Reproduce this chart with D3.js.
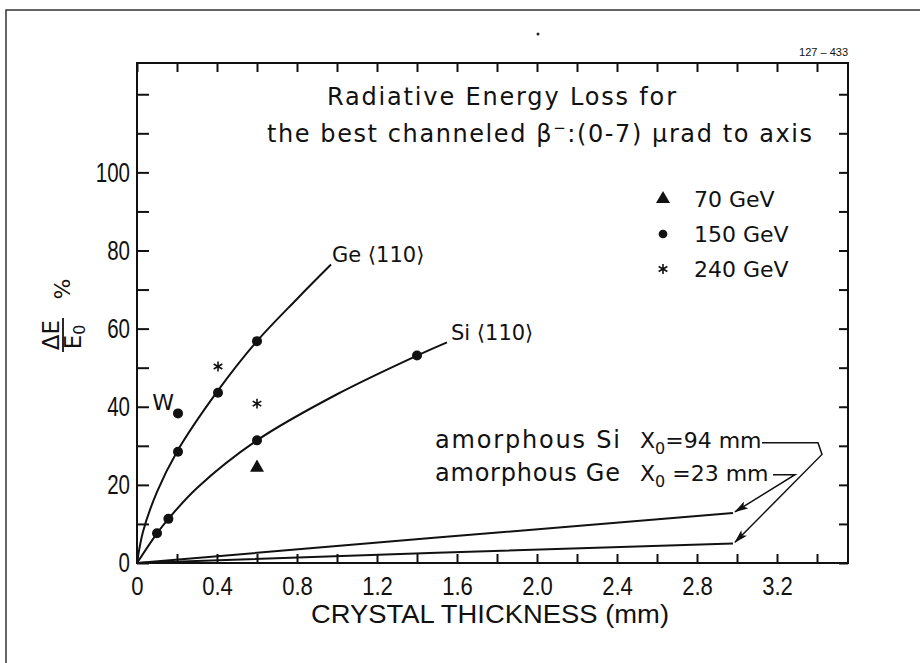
<!DOCTYPE html>
<html>
<head>
<meta charset="utf-8">
<title>Radiative Energy Loss</title>
<script src="https://d3js.org/d3.v7.min.js"></script>
<style>
  body { margin: 0; background: #fff; }
  svg { display: block; }
  text { fill: #111; }
  .lab { font-family: 'DejaVu Sans', 'Open Sans', sans-serif; }
  .num { font-family: 'Liberation Sans', Arial, sans-serif; }
  .tick line { stroke: #111; stroke-width: 2; }
</style>
</head>
<body>
<script>
// values: crystal thickness (mm) vs energy loss (%)
var geCurve = [[0,0],[0.03,8],[0.1,18.2],[0.2,28.5],[0.4,43.8],[0.6,56.8],[0.8,67.6],[0.97,76.4]];
var siCurve = [[0,0],[0.1,7.6],[0.157,11.3],[0.3,19.2],[0.6,31.4],[1.0,43.2],[1.4,53.1],[1.55,56.5]];
var amGe = [[0,0],[1.5,6.5],[2.98,12.8]];
var amSi = [[0,0],[1.5,2.6],[2.98,5.0]];

var pts150 = [[0.1,7.6],[0.157,11.3],[0.6,31.4],[1.4,53.1],[0.205,28.5],[0.405,43.6],[0.6,56.8],[0.205,38.3]];
var pts240 = [[0.405,50.3],[0.6,40.8]];
var pts70 = [[0.6,24.4]];

var xLabels = [0,0.4,0.8,1.2,1.6,2.0,2.4,2.8,3.2];
var yLabels = [0,20,40,60,80,100];
var legendNames = ["70 GeV", "150 GeV", "240 GeV"];

var W = 920, H = 663;
var svg = d3.select("body").append("svg").attr("width", W).attr("height", H);

// scanned page border (top and left only)
svg.append("path").attr("d", "M6,663V10H920").attr("fill", "none").attr("stroke", "#333").attr("stroke-width", 1.5);
svg.append("circle").attr("cx", 538).attr("cy", 34).attr("r", 1.5).attr("fill", "#222");

var x = d3.scaleLinear().domain([0, 3.555]).range([137, 848]);
var y = d3.scaleLinear().domain([0, 128]).range([563, 63]);

var minorX = d3.range(0, 3.5, 0.2);
var minorY = d3.range(0, 121, 10);

function fmtX(d) {
  var r = Math.round(d * 10);
  if (xLabels.indexOf(r / 10) < 0) return "";
  return r === 0 ? "0" : d3.format(".1f")(d);
}

// squeeze a text horizontally (the original lettering is narrow)
function narrow(sel, k) {
  sel.each(function(){
    var len = this.getComputedTextLength();
    if (len > 0) d3.select(this).attr("textLength", len * k).attr("lengthAdjust", "spacingAndGlyphs");
  });
}

var gx = svg.append("g").attr("transform", "translate(0," + y(0) + ")")
  .call(d3.axisBottom(x).tickValues(minorX).tickSizeInner(-9).tickSizeOuter(0).tickPadding(14).tickFormat(fmtX))
  .call(function(g){ g.select(".domain").remove(); });
gx.selectAll("text").attr("class", "num").attr("font-family", null).attr("font-size", null)
  .style("font-size", "26px").attr("fill", "#111").call(narrow, 0.85);

svg.append("g").attr("transform", "translate(0," + y(128) + ")")
  .call(d3.axisTop(x).tickValues(minorX).tickSizeInner(-9).tickSizeOuter(0).tickFormat(""))
  .call(function(g){ g.select(".domain").remove(); });

var gy = svg.append("g").attr("transform", "translate(" + x(0) + ",0)")
  .call(d3.axisLeft(y).tickValues(minorY).tickSizeInner(-12).tickSizeOuter(0).tickPadding(7)
    .tickFormat(function(d){ return yLabels.indexOf(d) >= 0 ? d : ""; }))
  .call(function(g){ g.select(".domain").remove(); });
gy.selectAll("text").attr("class", "num").attr("font-family", null).attr("font-size", null)
  .style("font-size", "27px").attr("fill", "#111").call(narrow, 0.76);

svg.append("g").attr("transform", "translate(" + x(3.555) + ",0)")
  .call(d3.axisRight(y).tickValues(minorY).tickSizeInner(-9).tickSizeOuter(0).tickFormat(""))
  .call(function(g){ g.select(".domain").remove(); });

// frame
svg.append("rect").attr("x", x(0)).attr("y", y(128))
  .attr("width", x(3.555) - x(0)).attr("height", y(0) - y(128))
  .attr("fill", "none").attr("stroke", "#111").attr("stroke-width", 2);

svg.append("text").attr("class", "num").attr("x", 848).attr("y", 56)
  .attr("text-anchor", "end").style("font-size", "11px").text("127 – 433");

// curves
var line = d3.line().x(function(d){ return x(d[0]); }).y(function(d){ return y(d[1]); });
var smooth = d3.line().x(function(d){ return x(d[0]); }).y(function(d){ return y(d[1]); })
  .curve(d3.curveCatmullRom.alpha(0.5));

[geCurve, siCurve].forEach(function(c){
  svg.append("path").attr("d", smooth(c)).attr("fill", "none").attr("stroke", "#111").attr("stroke-width", 2);
});
[amGe, amSi].forEach(function(c){
  svg.append("path").attr("d", line(c)).attr("fill", "none").attr("stroke", "#111").attr("stroke-width", 2);
});

// markers
svg.append("g").selectAll("circle").data(pts150).enter().append("circle")
  .attr("cx", function(d){ return x(d[0]); }).attr("cy", function(d){ return y(d[1]); })
  .attr("r", 5).attr("fill", "#111");

var tri = d3.symbol(d3.symbolTriangle, 85);
var star = d3.symbol(d3.symbolAsterisk, 70);

svg.append("g").selectAll("path").data(pts70).enter().append("path")
  .attr("d", tri).attr("fill", "#111")
  .attr("transform", function(d){ return "translate(" + x(d[0]) + "," + y(d[1]) + ")"; });

svg.append("g").selectAll("path").data(pts240).enter().append("path")
  .attr("d", star).attr("fill", "none").attr("stroke", "#111").attr("stroke-width", 1.6)
  .attr("transform", function(d){ return "translate(" + x(d[0]) + "," + y(d[1]) + ")"; });

// curve labels
svg.append("text").attr("class", "lab").attr("x", x(0.205) - 4).attr("y", y(38.3) - 3)
  .attr("text-anchor", "end").style("font-size", "22px").text("W");
svg.append("text").attr("class", "lab").attr("x", x(0.97) + 1).attr("y", y(76.4) - 3)
  .style("font-size", "21px").text("Ge ⟨110⟩");
svg.append("text").attr("class", "lab").attr("x", x(1.55) + 4).attr("y", y(56.5) - 2)
  .style("font-size", "21px").text("Si ⟨110⟩");

// legend
var legend = svg.append("g").selectAll("g").data(legendNames).enter().append("g")
  .attr("transform", function(d, i){ return "translate(663," + (199 + i * 35) + ")"; });
legend.append("path").attr("d", function(d, i){
    if (i === 0) return tri();
    if (i === 1) return d3.symbol(d3.symbolCircle, 60)();
    return star();
  })
  .attr("fill", function(d, i){ return i === 2 ? "none" : "#111"; })
  .attr("stroke", function(d, i){ return i === 2 ? "#111" : null; })
  .attr("stroke-width", 1.6);
legend.append("text").attr("class", "lab").attr("x", 31).attr("y", 8)
  .style("font-size", "22px").text(function(d){ return d; });

// title
var title = svg.append("g").attr("class", "lab").style("font-size", "24px");
title.append("text").attr("x", 327).attr("y", 105)
  .attr("textLength", 349).attr("lengthAdjust", "spacing").text("Radiative Energy Loss for");
var t2 = title.append("text").attr("x", 267).attr("y", 142)
  .attr("textLength", 545).attr("lengthAdjust", "spacing");
t2.append("tspan").text("the best channeled β");
t2.append("tspan").attr("dy", -9).style("font-size", "15px").text("−");
t2.append("tspan").attr("dy", 9).text(":(0-7) µrad to axis");

// amorphous annotations
svg.append("defs").append("marker").attr("id", "arr")
  .attr("viewBox", "0 0 14 8").attr("refX", 13).attr("refY", 4)
  .attr("markerWidth", 14).attr("markerHeight", 8).attr("markerUnits", "userSpaceOnUse")
  .attr("orient", "auto")
  .append("path").attr("d", "M0,0L14,4L0,8L3,4Z").attr("fill", "#111");

function xo(name, py, eq) {
  svg.append("text").attr("class", "lab").attr("x", x(1.49)).attr("y", py)
    .style("font-size", "24px").attr("textLength", 185).attr("lengthAdjust", "spacing").text(name);
  var t = svg.append("text").attr("class", "lab").attr("x", x(2.515)).attr("y", py).style("font-size", "22px");
  t.append("tspan").text("X");
  t.append("tspan").attr("dy", 6).style("font-size", "16px").text("0");
  t.append("tspan").attr("dy", -6).text(eq);
}
xo("amorphous Si", y(29.4), "=94 mm");
xo("amorphous Ge", y(21.0), " =23 mm");

var siLeader = [[3.125,30.8],[3.405,30.8],[3.425,27.8],[2.99,5.3]];
var geLeader = [[3.18,22.6],[3.29,22.6],[2.99,13.1]];
[siLeader, geLeader].forEach(function(c){
  svg.append("path").attr("d", line(c)).attr("fill", "none").attr("stroke", "#111")
    .attr("stroke-width", 1.5).attr("marker-end", "url(#arr)");
});

// axis titles
svg.append("text").attr("class", "num").attr("x", 311).attr("y", 623)
  .style("font-size", "26px").attr("textLength", 358).attr("lengthAdjust", "spacingAndGlyphs")
  .text("CRYSTAL THICKNESS (mm)");

var yl = svg.append("g").attr("transform", "translate(63,335) rotate(-90)").attr("class", "lab");
yl.append("text").attr("x", 0).attr("y", -4).attr("text-anchor", "middle").style("font-size", "23px").text("ΔE");
yl.append("line").attr("x1", -17).attr("x2", 17).attr("y1", 0).attr("y2", 0).attr("stroke", "#111").attr("stroke-width", 1.8);
var den = yl.append("text").attr("x", -2).attr("y", 18).attr("text-anchor", "middle").style("font-size", "23px");
den.append("tspan").text("E");
den.append("tspan").attr("dy", 4).style("font-size", "16px").text("0");
yl.append("text").attr("x", 46).attr("y", 7).attr("text-anchor", "middle").style("font-size", "22px").text("%");
</script>
</body>
</html>
